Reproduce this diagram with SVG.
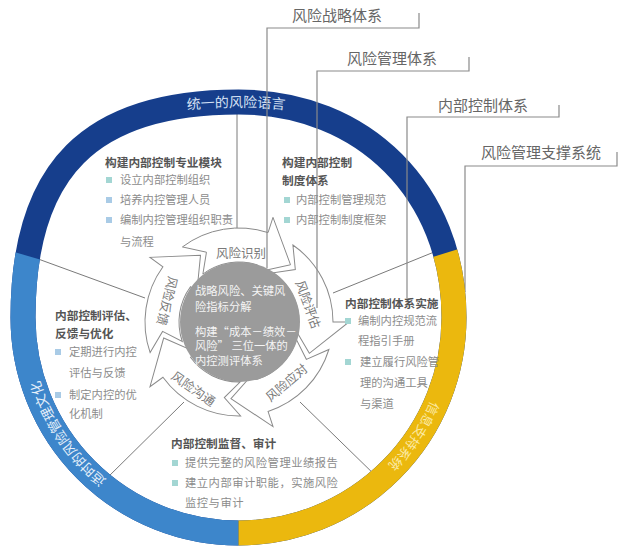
<svg xmlns="http://www.w3.org/2000/svg" width="629" height="548" viewBox="0 0 629 548">
<defs>
<style>
text{font-family:"Noto Sans CJK SC","Noto Sans",sans-serif;}
.lbl{font-size:15px;fill:#666;}
.ln{fill:none;stroke:#8a8a8a;stroke-width:1.2;}
.sp{fill:none;stroke:#7a7a7a;stroke-width:1;}
.ttl{font-size:11.7px;font-weight:bold;fill:#555;}
.bt{font-size:11.3px;fill:#8c8c8c;}
.bl{fill:#a3d6d3;}
.bl2{fill:#a9cbe6;}
.ring{fill:none;stroke-width:25;}
.rt{font-size:14px;}
.arw{fill:#fff;stroke:#8a8a8a;stroke-width:1;}
.al{font-size:12.5px;fill:#7a7a7a;text-anchor:middle;dominant-baseline:central;}
.ct{font-size:11.3px;fill:#f4f4f4;}
</style>
<path id="ringPath" d="M 23 317.5 C 23 169.2 90.2 102 238.5 102 C 363.5 102 454 192.5 454 317.5 A 215.5 215.5 0 0 1 238.5 533 A 215.5 215.5 0 0 1 23 317.5 Z"/>
<clipPath id="cLB"><polygon points="238.5,317.5 -400,131 -400,900 238.5,900"/></clipPath>
<clipPath id="cY"><polygon points="238.5,317.5 900,111.5 900,900 238.5,900"/></clipPath>
<path id="arrow" d="M -56.57 -75.07 A 94 94 0 0 1 29.05 -89.40 L 33.99 -104.62 L 51.52 -57.22 L 16.07 -49.46 L 18.54 -57.07 A 60 60 0 0 0 -36.11 -47.92 L -32.54 -69.79 Z"/>
<path id="pTop" d="M 120 122 A 480 480 0 0 1 357 122"/>
<path id="pLeft" d="M 167.5 514.4 A 209 209 0 0 1 30.8 299.8"/>
<path id="pRight" d="M 447.2 299.8 A 209 209 0 0 1 310.5 514.4"/>
</defs>

<g id="connectors">
<polyline class="ln" points="465,292 465,166 617,166 617,152"/>
<line class="sp" x1="237" y1="110" x2="237" y2="230"/>
<line class="sp" x1="444" y1="248" x2="333" y2="293"/>
<line class="sp" x1="380" y1="480" x2="300" y2="402"/>
<line class="sp" x1="106" y1="479" x2="184" y2="402"/>
<line class="sp" x1="30" y1="256" x2="145" y2="298"/>
</g>

<g id="ring">
<use href="#ringPath" class="ring" stroke="#163e8c"/>
<use href="#ringPath" class="ring" stroke="#3d86cb" clip-path="url(#cLB)"/>
<use href="#ringPath" class="ring" stroke="#ebb80e" clip-path="url(#cY)"/>
<text class="rt" fill="#d3e0f3"><textPath href="#pTop" startOffset="49%" text-anchor="middle">统一的风险语言</textPath></text>
<text class="rt" fill="#e6f0fa" style="font-size:13.5px"><textPath href="#pLeft" startOffset="48%" text-anchor="middle">适时的风险管理文化</textPath></text>
<text class="rt" fill="#fbeaa5" style="font-size:13px"><textPath href="#pRight" startOffset="52%" text-anchor="middle">信息支持系统</textPath></text>
</g>

<g id="cycle">
<g id="arrow-identify"><use href="#arrow" class="arw" transform="translate(239,322)"/><text class="al" x="241" y="252">风险识别</text></g>
<g id="arrow-assess"><use href="#arrow" class="arw" transform="translate(239,322) rotate(72)"/><text class="al" transform="translate(309,304) rotate(70)">风险评估</text></g>
<g id="arrow-respond"><use href="#arrow" class="arw" transform="translate(239,322) rotate(144)"/><text class="al" transform="translate(286,382) rotate(-40)">风险应对</text></g>
<g id="arrow-communicate"><use href="#arrow" class="arw" transform="translate(239,322) rotate(216)"/><text class="al" transform="translate(194,388) rotate(35)">风险沟通</text></g>
<g id="arrow-feedback"><use href="#arrow" class="arw" transform="translate(239,322) rotate(288)"/><text class="al" transform="translate(168,301) rotate(104)">风险反馈</text></g>
</g>

<g id="label-lines">
<polyline class="ln" points="267,268 267,28 419,28 419,13"/>
<polyline class="ln" points="317,308 317,71 469,71 469,57"/>
<polyline class="ln" points="407,298 407,117 559,117 559,105"/>
</g>

<g id="center">
<circle cx="240" cy="322" r="60" fill="#9b9b9b"/>
<text class="ct" x="195" y="294.5">战略风险、关键风</text>
<text class="ct" x="195" y="310.5">险指标分解</text>
<text class="ct" x="195" y="335.5">构建“成本－绩效－</text>
<text class="ct" x="195" y="350">风险” 三位一体的</text>
<text class="ct" x="195" y="364.5">内控测评体系</text>
</g>

<g id="labels">
<text class="lbl" x="292" y="21">风险战略体系</text>
<text class="lbl" x="347" y="64">风险管理体系</text>
<text class="lbl" x="438" y="111">内部控制体系</text>
<text class="lbl" x="481" y="158">风险管理支撑系统</text>
</g>

<g id="sec-module">
<text class="ttl" x="105" y="166.5">构建内部控制专业模块</text>
<rect class="bl" x="106" y="177" width="6" height="6"/>
<rect class="bl2" x="106" y="197" width="6" height="6"/>
<rect class="bl2" x="106" y="217" width="6" height="6"/>
<text class="bt" x="120" y="184">设立内部控制组织</text>
<text class="bt" x="120" y="204">培养内控管理人员</text>
<text class="bt" x="120" y="224">编制内控管理组织职责</text>
<text class="bt" x="120" y="245.5">与流程</text>
</g>

<g id="sec-system">
<text class="ttl" x="282" y="166.5">构建内部控制</text>
<text class="ttl" x="282" y="184.5">制度体系</text>
<rect class="bl" x="284" y="197" width="6" height="6"/>
<rect class="bl" x="284" y="217" width="6" height="6"/>
<text class="bt" x="296" y="204">内部控制管理规范</text>
<text class="bt" x="296" y="224">内部控制制度框架</text>
</g>

<g id="sec-implement">
<text class="ttl" x="345" y="307.5">内部控制体系实施</text>
<rect class="bl" x="345" y="318" width="6" height="6"/>
<rect class="bl" x="345" y="359" width="6" height="6"/>
<text class="bt" x="358" y="325">编制内控规范流</text>
<text class="bt" x="358" y="345">程指引手册</text>
<text class="bt" x="360" y="366">建立履行风险管</text>
<text class="bt" x="360" y="387">理的沟通工具</text>
<text class="bt" x="360" y="408">与渠道</text>
</g>

<g id="sec-evaluate">
<text class="ttl" x="55" y="319.5">内部控制评估、</text>
<text class="ttl" x="55" y="337.5">反馈与优化</text>
<rect class="bl2" x="55" y="349" width="6" height="6"/>
<rect class="bl2" x="55" y="392" width="6" height="6"/>
<text class="bt" x="69" y="356">定期进行内控</text>
<text class="bt" x="69" y="377">评估与反馈</text>
<text class="bt" x="69" y="399">制定内控的优</text>
<text class="bt" x="69" y="418">化机制</text>
</g>

<g id="sec-audit">
<text class="ttl" x="171" y="447.5">内部控制监督、审计</text>
<rect class="bl" x="172" y="460" width="6" height="6"/>
<rect class="bl" x="172" y="480" width="6" height="6"/>
<text class="bt" x="185" y="467" style="letter-spacing:0.5px">提供完整的风险管理业绩报告</text>
<text class="bt" x="185" y="487" style="letter-spacing:0.5px">建立内部审计职能，实施风险</text>
<text class="bt" x="185" y="507" style="letter-spacing:0.5px">监控与审计</text>
</g>
</svg>
